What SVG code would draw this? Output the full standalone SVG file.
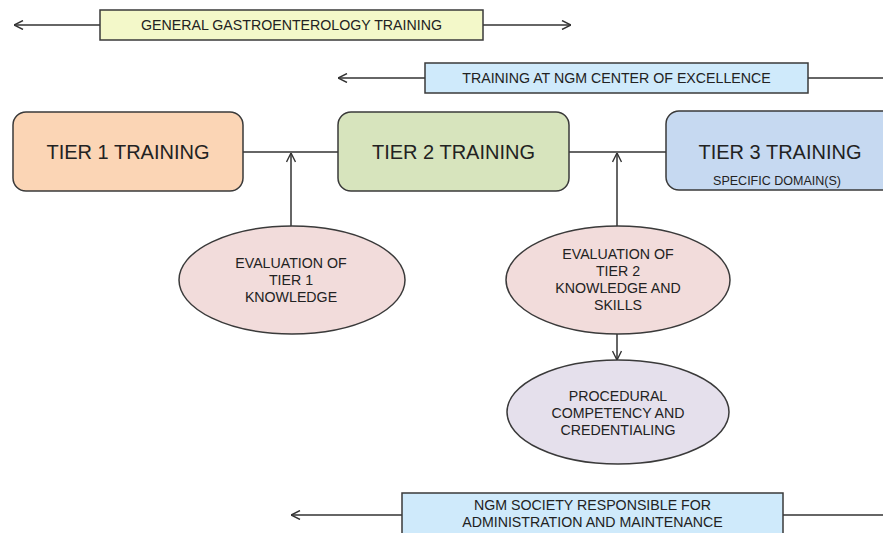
<svg xmlns="http://www.w3.org/2000/svg" width="883" height="533" viewBox="0 0 883 533">
<style>
  .box { stroke: #3a3a3a; stroke-width: 1.5; }
  .t { font-family: "Liberation Sans", Arial, sans-serif; fill: #222; text-anchor: middle; }
  .big { font-size: 20px; }
  .med { font-size: 14.2px; }
  .sm { font-size: 12.5px; }
  .ln { stroke: #333; stroke-width: 1.5; fill: none; }
</style>
<defs>
  <marker id="arr" viewBox="0 0 10 10" refX="10" refY="5" markerWidth="10" markerHeight="10" markerUnits="userSpaceOnUse" orient="auto-start-reverse">
    <path d="M1,0.5 L10,5 L1,9.5" fill="none" stroke="#333" stroke-width="1.4"/>
  </marker>
</defs>
<rect width="883" height="533" fill="#ffffff"/>

<g id="connectors">
  <line class="ln" x1="100" y1="25" x2="14" y2="25" marker-end="url(#arr)"/>
  <line class="ln" x1="483" y1="25" x2="571" y2="25" marker-end="url(#arr)"/>
  <line class="ln" x1="425" y1="78" x2="338" y2="78" marker-end="url(#arr)"/>
  <line class="ln" x1="808" y1="78" x2="883" y2="78"/>
  <line class="ln" x1="243" y1="152" x2="338" y2="152"/>
  <line class="ln" x1="569" y1="152" x2="666" y2="152"/>
  <line class="ln" x1="291" y1="226" x2="291" y2="153" marker-end="url(#arr)"/>
  <line class="ln" x1="617" y1="226" x2="617" y2="153" marker-end="url(#arr)"/>
  <line class="ln" x1="617" y1="334" x2="617" y2="360" marker-end="url(#arr)"/>
  <line class="ln" x1="402" y1="515" x2="291" y2="515" marker-end="url(#arr)"/>
  <line class="ln" x1="783" y1="515" x2="883" y2="515"/>
</g>

<g id="general">
  <rect class="box" x="100" y="10" width="383" height="30" fill="#f3f8c9"/>
  <text class="t med" x="291.5" y="30">GENERAL GASTROENTEROLOGY TRAINING</text>
</g>

<g id="center-excellence">
  <rect class="box" x="425" y="63" width="383" height="30" fill="#cfeafb"/>
  <text class="t med" x="616.5" y="83">TRAINING AT NGM CENTER OF EXCELLENCE</text>
</g>

<g id="tier1">
  <rect class="box" x="13" y="112" width="230" height="79" rx="13" fill="#fbd5b5"/>
  <text class="t big" x="128" y="159">TIER 1 TRAINING</text>
</g>

<g id="tier2">
  <rect class="box" x="338" y="112" width="231" height="79" rx="13" fill="#d7e4bd"/>
  <text class="t big" x="453.5" y="159">TIER 2 TRAINING</text>
</g>

<g id="tier3">
  <rect class="box" x="666" y="111" width="231" height="79" rx="13" fill="#c6d9f1"/>
  <text class="t big" x="780" y="159">TIER 3 TRAINING</text>
  <text class="t sm" x="777" y="185">SPECIFIC DOMAIN(S)</text>
</g>

<g id="eval1">
  <ellipse class="box" cx="292" cy="280" rx="113" ry="54" fill="#f2dcdb"/>
  <text class="t med" x="291" y="268">EVALUATION OF</text>
  <text class="t med" x="291" y="285">TIER 1</text>
  <text class="t med" x="291" y="302">KNOWLEDGE</text>
</g>

<g id="eval2">
  <ellipse class="box" cx="618" cy="280" rx="112" ry="54" fill="#f2dcdb"/>
  <text class="t med" x="618" y="259">EVALUATION OF</text>
  <text class="t med" x="618" y="276">TIER 2</text>
  <text class="t med" x="618" y="293">KNOWLEDGE AND</text>
  <text class="t med" x="618" y="310">SKILLS</text>
</g>

<g id="procedural">
  <ellipse class="box" cx="618" cy="412" rx="111" ry="52" fill="#e5e0ec"/>
  <text class="t med" x="618" y="401">PROCEDURAL</text>
  <text class="t med" x="618" y="418">COMPETENCY AND</text>
  <text class="t med" x="618" y="435">CREDENTIALING</text>
</g>

<g id="society">
  <rect class="box" x="402" y="493" width="381" height="50" fill="#cfeafb"/>
  <text class="t med" x="592.5" y="510">NGM SOCIETY RESPONSIBLE FOR</text>
  <text class="t med" x="592.5" y="527">ADMINISTRATION AND MAINTENANCE</text>
</g>
</svg>
